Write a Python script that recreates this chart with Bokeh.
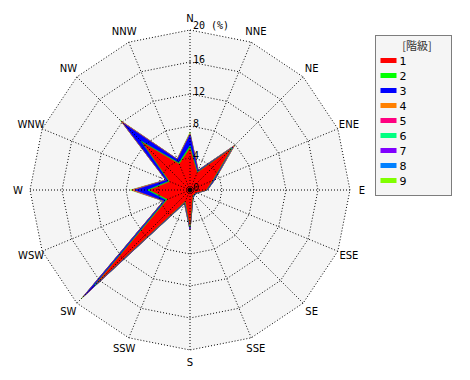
import numpy as np
from bokeh.plotting import figure
from bokeh.models import Range1d, ColumnDataSource
from bokeh.embed import file_html
from bokeh.resources import INLINE
from bokeh.core.properties import value

# ---------------- data ----------------
directions = ["N", "NNE", "NE", "ENE", "E", "ESE", "SE", "SSE",
              "S", "SSW", "SW", "WSW", "W", "WNW", "NW", "NNW"]
class_labels = ["1", "2", "3", "4", "5", "6", "7", "8", "9"]
class_colors = ["#ff0000", "#00ff00", "#0000ff", "#ff8000", "#ff0080",
                "#00ff80", "#8000ff", "#0080ff", "#80ff00"]

class1 = [5.2, 2.3, 7.2, 3.0, 2.0, 0.8, 0.7, 0.8, 4.4, 1.5, 16.5, 3.0, 5.0, 2.7, 8.3, 3.5]
class2 = [0.3, 0.1, 0.2, 0.1, 0.05, 0.05, 0.05, 0.1, 0.2, 0.1, 0.4, 0.2, 0.3, 0.15, 0.3, 0.15]
class3 = [1.4, 0.2, 0.2, 0.2, 0.1, 0.1, 0.1, 0.1, 0.3, 0.15, 1.8, 0.3, 1.6, 0.35, 3.2, 0.45]
class4 = [0.1, 0.05, 0.2, 0.05, 0.0, 0.0, 0.0, 0.0, 0.05, 0.05, 0.2, 0.05, 0.3, 0.05, 0.3, 0.05]
class5 = [0.02, 0.0, 0.02, 0.0, 0.0, 0.0, 0.0, 0.0, 0.0, 0.0, 0.05, 0.0, 0.05, 0.0, 0.05, 0.0]
class6 = [0.0] * 16
class7 = [0.0] * 16
class8 = [0.0] * 16
class9 = [0.2, 0.05, 0.1, 0.05, 0.05, 0.05, 0.05, 0.0, 0.05, 0.05, 0.3, 0.05, 0.2, 0.05, 0.2, 0.05]
classes = [class1, class2, class3, class4, class5, class6, class7, class8, class9]

ring_values = [4, 8, 12, 16, 20]
tick_values = [0, 4, 8, 12, 16, 20]
tick_labels = ["0", "4", "8", "12", "16", "20 (%)"]
legend_title = "[階級]"

# ---------------- layout ----------------
PX = 8.0                 # pixels per percent
W, H = 460, 372
CX, CY = 189.5, 189.5    # chart centre in figure pixels (from top-left)
R_MAX = ring_values[-1]
R_LABEL = 21.5


def fx(px):  # page pixel -> data x
    return (px - CX) / PX


def fy(py):  # page pixel -> data y
    return (CY - py) / PX


p = figure(width=W, height=H, output_backend="svg", toolbar_location=None,
           x_range=Range1d(-CX / PX, (W - CX) / PX),
           y_range=Range1d(-(H - CY) / PX, CY / PX),
           min_border=0, x_axis_location=None, y_axis_location=None)
p.grid.visible = False
p.outline_line_color = None
p.background_fill_color = "white"
p.border_fill_color = "white"

theta = np.deg2rad(np.arange(len(directions)) * 22.5)
sx, sy = np.sin(theta), np.cos(theta)

# background disc (16-gon)
p.patch(list(R_MAX * sx), list(R_MAX * sy), fill_color="#f5f5f5", line_color=None)

# stacked (cumulative) classes, outermost first
cum = np.cumsum(np.array(classes), axis=0)
order = list(reversed(range(len(classes))))
src = ColumnDataSource(dict(
    xs=[list(cum[k] * sx) for k in order],
    ys=[list(cum[k] * sy) for k in order],
    color=[class_colors[k] for k in order],
))
p.patches("xs", "ys", source=src, fill_color="color", line_color="color", line_width=0.6)

# grid rings and spokes (dotted, on top)
ring_xs = [list(r * sx) + [r * sx[0]] for r in ring_values]
ring_ys = [list(r * sy) + [r * sy[0]] for r in ring_values]
p.multi_line(ring_xs, ring_ys, line_color="black", line_dash="1 2", line_width=1)
spoke_xs = [[0, R_MAX * a] for a in sx]
spoke_ys = [[0, R_MAX * b] for b in sy]
p.multi_line(spoke_xs, spoke_ys, line_color="black", line_dash="1 2", line_width=1)
p.scatter([0], [0], size=4, color="black")

# direction labels
p.text(x=list(R_LABEL * sx), y=list(R_LABEL * sy), text=directions,
       text_align="center", text_baseline="middle",
       text_font=value("DejaVu Sans"), text_font_size="10px", text_color="black")

# radial tick labels
p.text(x=[0] * len(tick_values), y=tick_values, text=tick_labels,
       x_offset=3, y_offset=1, text_align="left", text_baseline="bottom",
       text_font=value("DejaVu Sans Mono"), text_font_size="10px", text_color="black")

# ---------------- legend ----------------
p.quad(left=[fx(375)], right=[fx(451)], top=[fy(35)], bottom=[fy(195)],
       fill_color="#f5f5f5", line_color="black", line_dash="1 1", line_width=1)
p.text(x=[fx(416.5)], y=[fy(44)], text=[legend_title], text_align="center",
       text_baseline="middle", text_font=value("Noto Sans CJK JP"),
       text_font_size="11px", text_color="#333333")
row_y = [fy(60 + 15 * i) for i in range(len(class_labels))]
leg = ColumnDataSource(dict(
    y=row_y,
    top=[y + 2.5 / PX for y in row_y],
    bottom=[y - 2.5 / PX for y in row_y],
    label=class_labels,
    color=class_colors,
))
p.quad(left=fx(380), right=fx(396), top="top", bottom="bottom", source=leg,
       fill_color="color", line_color=None)
p.text(x=fx(399), y="y", text="label", source=leg, text_align="left",
       text_baseline="middle", text_font=value("DejaVu Sans"),
       text_font_size="11px", text_color="black")

open("out.html", "w").write(file_html(p, INLINE))
